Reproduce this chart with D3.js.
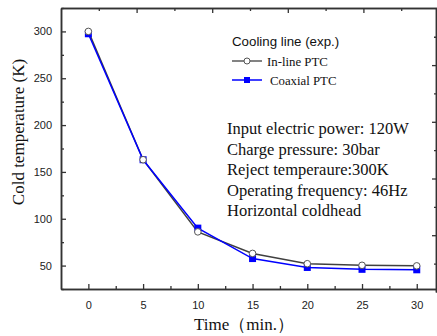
<!DOCTYPE html>
<html><head><meta charset="utf-8">
<script src="https://cdn.jsdelivr.net/npm/d3@7"></script>
<style>body{margin:0;background:#fff}svg{display:block}</style>
</head><body>
<svg id="c" width="437" height="336"></svg>
<script>
const times = [0, 5, 10, 15, 20, 25, 30];
const inlinePTC = [300, 163, 86, 63, 52, 50.3, 49.7];
const coaxialPTC = [297.5, 163, 90, 57.5, 48, 46, 45.5];
const xTicks = [0, 5, 10, 15, 20, 25, 30];
const yTicks = [50, 100, 150, 200, 250, 300];
const legendTitle = "Cooling line (exp.)";
const seriesNames = ["In-line PTC", "Coaxial PTC"];
const notes = ["Input electric power: 120W", "Charge pressure: 30bar", "Reject temperaure:300K", "Operating frequency: 46Hz", "Horizontal coldhead"];
const xTitle = "Time\uFF08min.\uFF09";
const yTitle = "Cold temperature (K)";

const svg = d3.select("#c");
const L = 61, R = 437, T = 8, B = 289;
const x = d3.scaleLinear().domain([-2.5, 31.85]).range([L, R]);
const y = d3.scaleLinear().domain([25, 325]).range([B, T]);
const axisCol = "#333";
const sans = "'Liberation Sans', Arial, sans-serif";
const serif = "'Liberation Serif', 'Times New Roman', serif";

const xMinor = d3.range(2.5, 31, 5);
const yMinor = d3.range(25, 326, 50);

const g = svg.append("g");
g.append("g").attr("transform", `translate(0,${B})`)
  .call(d3.axisBottom(x).tickValues(xTicks).tickSize(-5).tickSizeOuter(0).tickPadding(12).tickFormat(d3.format("d")));
g.append("g").attr("transform", `translate(0,${B})`)
  .call(d3.axisBottom(x).tickValues(xMinor).tickSize(-3).tickSizeOuter(0).tickFormat(""));
g.append("g").attr("transform", `translate(${L},0)`)
  .call(d3.axisLeft(y).tickValues(yTicks).tickSize(-5).tickSizeOuter(0).tickPadding(9).tickFormat(d3.format("d")));
g.append("g").attr("transform", `translate(${L},0)`)
  .call(d3.axisLeft(y).tickValues(yMinor).tickSize(-3).tickSizeOuter(0).tickFormat(""));
const xt = d3.scaleLinear().domain([0, 10]).range([L, L + 378]);
g.append("g").attr("transform", `translate(0,${T})`)
  .call(d3.axisTop(xt).tickValues([2, 4, 6, 8]).tickSize(-5).tickSizeOuter(0).tickFormat(""));
g.append("g").attr("transform", `translate(0,${T})`)
  .call(d3.axisTop(xt).tickValues([1, 3, 5, 7, 9]).tickSize(-3).tickSizeOuter(0).tickFormat(""));
const yr = d3.scaleLinear().domain([0, 10]).range([8.4, 8.4 + 283.5]);
g.append("g").attr("transform", `translate(${R - 1},0)`)
  .call(d3.axisRight(yr).tickValues([2, 4, 6, 8]).tickSize(-4).tickSizeOuter(0).tickFormat(""));
g.append("g").attr("transform", `translate(${R - 1},0)`)
  .call(d3.axisRight(yr).tickValues([1, 3, 5, 7, 9]).tickSize(-2).tickSizeOuter(0).tickFormat(""));

g.selectAll(".domain").attr("stroke", axisCol).attr("stroke-width", 1.5);
g.selectAll(".tick line").attr("stroke", axisCol).attr("stroke-width", 1.3);
g.selectAll(".tick text").attr("fill", "#222").style("font-family", sans).style("font-size", "11px");

const line = (vals) => d3.line().x((d, i) => x(times[i])).y(d => y(d))(vals);
svg.append("path").attr("d", line(inlinePTC)).attr("fill", "none").attr("stroke", "#404040").attr("stroke-width", 1.5);
svg.append("path").attr("d", line(coaxialPTC)).attr("fill", "none").attr("stroke", "#0000ff").attr("stroke-width", 1.5);
svg.selectAll(".sq").data(coaxialPTC).join("rect")
  .attr("x", (d, i) => x(times[i]) - 3.5).attr("y", d => y(d) - 3.5)
  .attr("width", 7).attr("height", 7).attr("fill", "#0000ff");
svg.selectAll(".ci").data(inlinePTC).join("circle")
  .attr("cx", (d, i) => x(times[i])).attr("cy", d => y(d)).attr("r", 3.3)
  .attr("fill", "#fff").attr("stroke", "#555").attr("stroke-width", 1);

svg.append("text").attr("x", 232).attr("y", 46).text(legendTitle)
  .style("font-family", sans).style("font-size", "13.3px").attr("fill", "#111");
svg.append("line").attr("x1", 232).attr("x2", 262).attr("y1", 61).attr("y2", 61).attr("stroke", "#404040").attr("stroke-width", 1.3);
svg.append("circle").attr("cx", 247).attr("cy", 61).attr("r", 3).attr("fill", "#fff").attr("stroke", "#555");
svg.append("text").attr("x", 267).attr("y", 65.5).text(seriesNames[0])
  .style("font-family", serif).style("font-size", "12.8px").attr("fill", "#111");
svg.append("line").attr("x1", 232).attr("x2", 262).attr("y1", 80).attr("y2", 80).attr("stroke", "#0000ff").attr("stroke-width", 1.5);
svg.append("rect").attr("x", 244).attr("y", 77).attr("width", 6).attr("height", 6).attr("fill", "#0000ff");
svg.append("text").attr("x", 270).attr("y", 84.5).text(seriesNames[1])
  .style("font-family", serif).style("font-size", "12.8px").attr("fill", "#111");

svg.selectAll(".note").data(notes).join("text")
  .attr("x", 227).attr("y", (d, i) => 134 + i * 20.6).text(d => d)
  .style("font-family", serif).style("font-size", "16.5px").attr("fill", "#111");

svg.append("text").attr("x", 244).attr("y", 330).attr("text-anchor", "middle").text(xTitle)
  .style("font-family", serif).style("font-size", "17px").attr("fill", "#111");
svg.append("text").attr("transform", "translate(24,132) rotate(-90)").attr("text-anchor", "middle").text(yTitle)
  .style("font-family", serif).style("font-size", "17px").attr("fill", "#111");
</script>
</body></html>
